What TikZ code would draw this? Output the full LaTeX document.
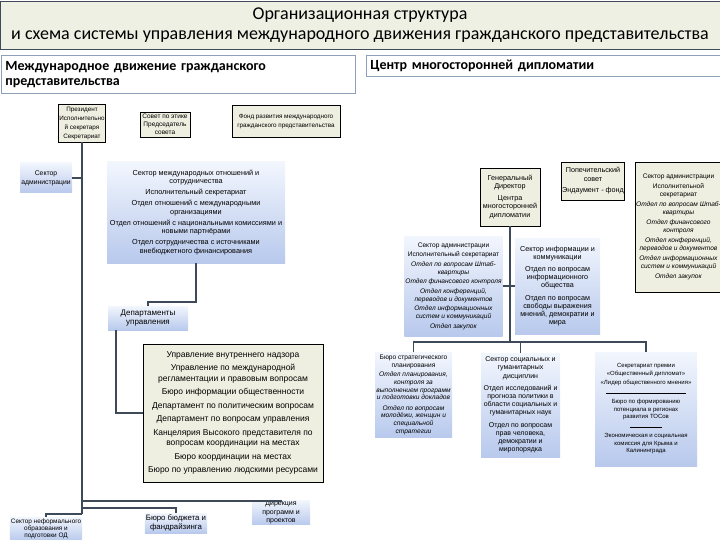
\documentclass[tikz,border=0pt]{standalone}
\usepackage{fontspec}
\setmainfont{Carlito}
\newfontfamily\boxfont{Liberation Sans}
\usepackage{tikz}
\definecolor{orgedge}{RGB}{62,74,90}
\definecolor{orgband}{RGB}{238,240,228}
\definecolor{orgbeige}{RGB}{239,239,225}
\definecolor{orgtop}{RGB}{242,246,253}
\definecolor{orgbot}{RGB}{184,201,237}
\definecolor{orghead}{RGB}{140,160,184}
\newcommand{\orgfs}[2]{\fontsize{#1}{#2}\selectfont}
\tikzset{
  orgbox/.style={align=center, inner sep=1pt, font=\boxfont\orgfs{7}{8.5}},
  beigebox/.style={orgbox, draw=black, line width=0.6pt, fill=orgbeige},
  bluebox/.style={orgbox, top color=orgtop, bottom color=orgbot},
  headbox/.style={
    draw=orghead, line width=0.8pt, fill=white, anchor=north west,
    align=left, inner sep=4pt, text width=346pt, font=\bfseries\orgfs{14}{15}
  },
  link/.style={draw=orgedge, line width=1.8pt}
}

\begin{document}
\begin{tikzpicture}[x=1pt,y=-1pt]
  \useasboundingbox (0,0) rectangle (720,540);
  % title band
  \node[fill=orgband, draw=orgedge, line width=1.2pt, minimum width=720pt,
    minimum height=48pt, anchor=north west, inner sep=0pt] (band) at (0,0.6) {};
  \node[font=\orgfs{18}{20}] (title1) at (360,15) {Организационная структура};
  \node[font=\orgfs{18}{20}] (title2) at (360,37)
    {и схема системы управления международного движения гражданского представительства};
  \node[headbox, minimum height=38pt] (hleft) at (1,55)
    {Международное движение гражданского\\представительства};
  \node[headbox, minimum height=21pt] (hright) at (366,55)
    {Центр многосторонней дипломатии};

  % left part
  \node[beigebox, minimum width=44pt, minimum height=38pt, font=\boxfont\orgfs{6.3}{9}] (pres) at (82,123)
    {Президент\\Исполнительно\\й секретаря\\Секретариат};
  \node[beigebox, minimum width=50pt, minimum height=25pt, font=\boxfont\orgfs{6.5}{8}] (sov) at (165,124.5)
    {Совет по этике\\Председатель\\совета};
  \node[beigebox, minimum width=108pt, minimum height=32pt, font=\boxfont\orgfs{6.3}{9}] (fond) at (286,121)
    {Фонд развития международного\\гражданского представительства};
  \node[bluebox, minimum width=52pt, minimum height=30pt, font=\boxfont\orgfs{6.8}{9}] (adm) at (46,178)
    {Сектор\\администрации};
  \node[bluebox, minimum width=178pt, minimum height=101pt, font=\boxfont\orgfs{7.3}{8.5}] (intl) at (196,212.5)
    {Сектор международных отношений и\\сотрудничества\\[2.5pt]Исполнительный секретариат\\[2.5pt]%
     Отдел отношений с международными\\организациями\\[2.5pt]%
     Отдел отношений с национальными комиссиями и\\новыми партнёрами\\[2.5pt]%
     Отдел сотрудничества с источниками\\внебюджетного финансирования};
  \node[bluebox, minimum width=80pt, minimum height=24pt, font=\boxfont\orgfs{8}{9.5}] (dep) at (148,318)
    {Департаменты\\управления};
  \node[beigebox, minimum width=180pt, minimum height=138pt, font=\boxfont\orgfs{8.5}{10.5}] (nadz) at (233,413)
    {Управление внутреннего надзора\\[3pt]Управление по международной\\регламентации и правовым вопросам\\[3pt]%
     Бюро информации общественности\\[3pt]Департамент по политическим вопросам\\[3pt]%
     Департамент по вопросам управления\\[3pt]Канцелярия Высокого представителя по\\вопросам координации на местах\\[3pt]%
     Бюро координации на местах\\[3pt]Бюро по управлению людскими ресурсами};
  \node[bluebox, minimum width=72pt, minimum height=24pt, font=\boxfont\orgfs{6.4}{7.2}] (nfo) at (46,529)
    {Сектор неформального\\образования и\\подготовки ОД};
  \node[bluebox, minimum width=58pt, minimum height=20pt, font=\boxfont\orgfs{7.8}{9.5}] (bud) at (176,523)
    {Бюро бюджета и\\фандрайзинга};
  \node[bluebox, minimum width=58pt, minimum height=19pt, font=\boxfont\orgfs{7}{8.3}] (dir) at (281,512.5)
    {Дирекция\\программ и\\проектов};

  \coordinate (trunkend) at (82,514);
  \coordinate (k1) at (196,302);
  \coordinate (k2) at (116,413);
  \coordinate (k3) at (82,501);
  \coordinate (k4) at (82,508);
  \draw[link] (pres.south) -- (trunkend);
  \draw[link] (adm.east) -- (adm.east -| pres.south);
  \draw[link] (intl.south) -- (k1) -| (dep.north);
  \draw[link] (k2 |- dep.south) -- (k2) -- (nadz.west);
  \draw[link] (k3) -| (dir.north);
  \draw[link] (k4) -| (bud.north);
  \draw[link] (trunkend) -| (nfo.north);

  % right part
  \node[beigebox, minimum width=60pt, minimum height=58pt, font=\boxfont\orgfs{7.2}{8.5}] (gd) at (510,197)
    {Генеральный\\Директор\\[3pt]Центра\\многосторонней\\дипломатии};
  \node[beigebox, minimum width=62pt, minimum height=38pt, font=\boxfont\orgfs{7.2}{8.5}] (pop) at (593,181)
    {Попечительский\\совет\\[3pt]Эндаумент - фонд};
  \node[beigebox, minimum width=81pt, minimum height=130pt, font=\boxfont\orgfs{6.6}{8.3}] (radm) at (678.5,227)
    {Сектор администрации\\[1.5pt]Исполнительной\\секретариат\\[1.5pt]%
     \textit{Отдел по вопросам Штаб-}\\\textit{квартиры}\\[1.5pt]\textit{Отдел финансового}\\\textit{контроля}\\[1.5pt]%
     \textit{Отдел конференций,}\\\textit{переводов и документов}\\[1.5pt]%
     \textit{Отдел информационных}\\\textit{систем и коммуникаций}\\[1.5pt]\textit{Отдел закупок}};
  \node[bluebox, minimum width=97pt, minimum height=100pt, font=\boxfont\orgfs{6.6}{8}] (cadm) at (453.5,286)
    {Сектор администрации\\[1.5pt]Исполнительный секретариат\\[1.5pt]%
     \textit{Отдел по вопросам Штаб-}\\\textit{квартиры}\\[1.5pt]\textit{Отдел финансового контроля}\\[1.5pt]%
     \textit{Отдел конференций,}\\\textit{переводов и документов}\\[1.5pt]%
     \textit{Отдел информационных}\\\textit{систем и коммуникаций}\\[1.5pt]\textit{Отдел закупок}};
  \node[bluebox, minimum width=85pt, minimum height=96pt, font=\boxfont\orgfs{7.2}{8.2}] (cinf) at (557.5,286)
    {Сектор информации и\\коммуникации\\[4pt]Отдел по вопросам\\информационного\\общества\\[4pt]%
     Отдел по вопросам\\свободы выражения\\мнений, демократии и\\мира};
  \node[bluebox, minimum width=77pt, minimum height=85pt, font=\boxfont\orgfs{6.6}{7.7}] (strat) at (413.5,395)
    {Бюро стратегического\\планирования\\[1.5pt]\textit{Отдел планирования,}\\\textit{контроля за}\\%
     \textit{выполнением программ}\\\textit{и подготовки докладов}\\[2.5pt]%
     \textit{Отдел по вопросам}\\\textit{молодёжи, женщин и}\\\textit{специальной}\\\textit{стратегии}};
  \node[bluebox, minimum width=79pt, minimum height=104pt, font=\boxfont\orgfs{7}{8.2}] (soc) at (520.5,405)
    {Сектор социальных и\\гуманитарных\\дисциплин\\[4pt]Отдел исследований и\\прогноза политики в\\%
     области социальных и\\гуманитарных наук\\[4pt]Отдел по вопросам\\прав человека,\\демократии и\\миропорядка};
  \node[bluebox, minimum width=102pt, minimum height=114pt, font=\boxfont\orgfs{6}{7.5}] (prem) at (646,409)
    {Секретариат премии\\«Общественный дипломат»\\[2pt]«Лидер общественного мнения»\\[1pt]%
     \rule{80pt}{0.5pt}\\[3pt]Бюро по формированию\\потенциала в регионах\\развития ТОСов\\[1pt]%
     \rule{32pt}{0.5pt}\\[3pt]Экономическая и социальная\\комиссия для Крыма и\\Калининграда};

  \coordinate (bus) at (510,342);
  \draw[link] (gd.south) -- (bus);
  \draw[link] (cadm.east) -- (cinf.west);
  \draw[link] (strat.north) |- (bus) -| (prem.north);
  \draw[link] (soc.north) -- (soc.north |- bus);
\end{tikzpicture}
\end{document}
